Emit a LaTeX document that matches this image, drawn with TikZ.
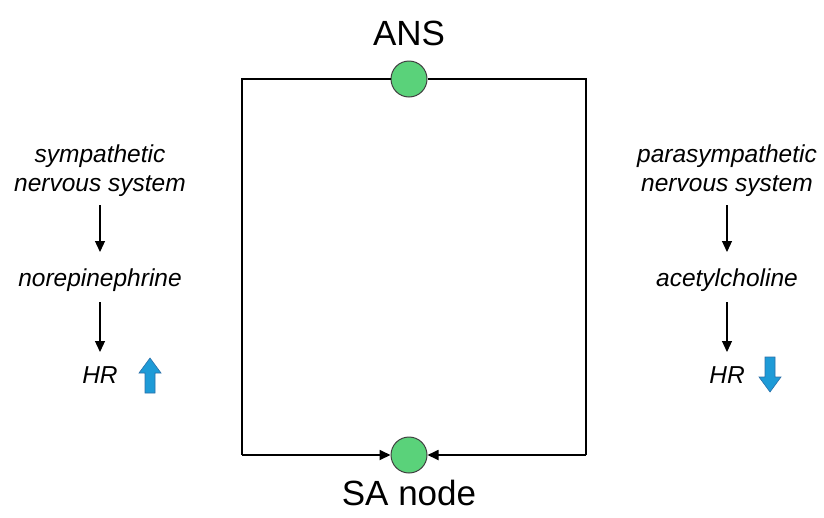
\documentclass[tikz,border=0pt]{standalone}
\usepackage{fontspec}
\setmainfont{Liberation Sans}
\usetikzlibrary{arrows.meta}
\definecolor{dotgreen}{HTML}{5AD27A}
\definecolor{hrblue}{HTML}{1E9BD7}
\definecolor{hrblueedge}{HTML}{2A6FA8}
\begin{document}
\begin{tikzpicture}[x=1pt,y=-1pt,
  lbl/.style={font=\fontsize{24.5}{29}\selectfont\itshape, align=center, inner sep=0pt},
  big/.style={font=\fontsize{35}{40}\selectfont, inner sep=0pt},
  dot/.style={circle, draw=black!75, line width=1pt, fill=dotgreen, minimum size=36pt, inner sep=0pt},
  wire/.style={line width=1.8pt},
  flow/.style={line width=1.2pt, -{Triangle[length=11pt,width=10pt]}},
  hr/.style={fill=hrblue, draw=hrblueedge, line width=0.6pt}]
\useasboundingbox (0,0) rectangle (824,517);
% frame
\node[dot] (ans) at (409,79) {};
\node[dot] (sa) at (409,455) {};
\coordinate (tl) at (242,79);
\coordinate (tr) at (586,79);
\coordinate (bl) at (242,455);
\coordinate (br) at (586,455);
\draw[wire] (ans.west) -- (tl) -- (bl);
\draw[wire] (ans.east) -- (tr) -- (br);
\draw[wire, -{Triangle[length=11pt,width=10pt]}] (bl) -- (sa.west);
\draw[wire, -{Triangle[length=11pt,width=10pt]}] (br) -- (sa.east);
\node[big] (anstext) at (409,33) {ANS};
\node[big] (satext) at (409,493) {SA node};
% left column
\node[lbl] (symp) at (100,171) {sympathetic\\nervous system};
\node[lbl] (norep) at (100,280) {norepinephrine};
\node[lbl] (hrl) at (100,375) {HR};
\coordinate (l1a) at (100,205);
\coordinate (l1b) at (100,252);
\coordinate (l2a) at (100,302);
\coordinate (l2b) at (100,352);
\draw[flow] (l1a) -- (l1b);
\draw[flow] (l2a) -- (l2b);
% right column
\node[lbl] (para) at (727,171) {parasympathetic\\nervous system};
\node[lbl] (acet) at (727,280) {acetylcholine};
\node[lbl] (hrr) at (727,375) {HR};
\coordinate (r1a) at (727,205);
\coordinate (r1b) at (727,252);
\coordinate (r2a) at (727,302);
\coordinate (r2b) at (727,352);
\draw[flow] (r1a) -- (r1b);
\draw[flow] (r2a) -- (r2b);
% blue arrows
\draw[hr] (145,393) -- (145,373) -- (139,373) -- (150,358) -- (161,373) -- (155,373) -- (155,393) -- cycle;
\draw[hr] (765,357) -- (765,377) -- (759,377) -- (770,392) -- (781,377) -- (775,377) -- (775,357) -- cycle;
\end{tikzpicture}
\end{document}
